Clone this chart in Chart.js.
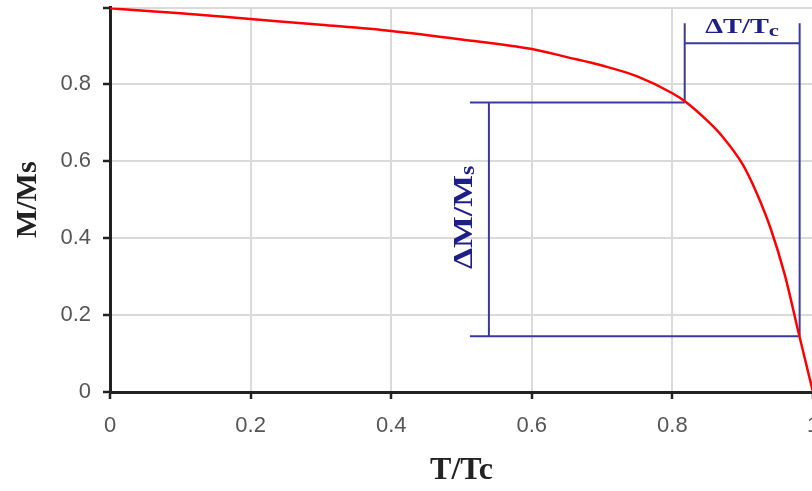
<!DOCTYPE html>
<html>
<head>
<meta charset="utf-8">
<script src="https://cdn.jsdelivr.net/npm/chart.js@4.4.1/dist/chart.umd.min.js"></script>
<style>
  html, body { margin: 0; padding: 0; background: #fff; overflow: hidden; }
  #wrap { position: relative; width: 833px; height: 491px; }
</style>
</head>
<body>
<div id="wrap"><canvas id="graphCanvas"></canvas></div>
<script>
// reduced temperature and reduced magnetization
const temperature = [0, 0.1, 0.2, 0.3, 0.4, 0.5, 0.6, 0.65, 0.7, 0.75, 0.8, 0.82, 0.85, 0.87, 0.9, 0.92, 0.94, 0.96, 0.98, 0.99, 1.0];
const magnetization = [0.998, 0.985, 0.970, 0.955, 0.939, 0.917, 0.892, 0.871, 0.849, 0.821, 0.777, 0.753, 0.705, 0.667, 0.592, 0.517, 0.424, 0.304, 0.150, 0.075, 0.0];

const axisTicks = [0, 0.2, 0.4, 0.6, 0.8, 1];

// intervals marked by the brackets
const deltaT = [0.8175, 0.981];
const deltaM = [0.145, 0.753];
const bracketLeft = 0.512;
const bracketTop = 0.959;
const deltaTBarY = 0.907;
const deltaMBarX = 0.539;

const BLUE = '#3a3a9e';
const NAVY = '#1e1e88';

function segment(x0, y0, x1, y1) {
    return {
        data: [{ x: x0, y: y0 }, { x: x1, y: y1 }],
        borderColor: BLUE,
        borderWidth: 2,
        pointRadius: 0,
        tension: 0,
    };
}

const bracketSegments = [
    segment(bracketLeft, deltaM[1], deltaT[0], deltaM[1]),
    segment(bracketLeft, deltaM[0], deltaT[1], deltaM[0]),
    segment(deltaMBarX, deltaM[0], deltaMBarX, deltaM[1]),
    segment(deltaT[0], deltaM[1], deltaT[0], bracketTop),
    segment(deltaT[1], deltaM[0], deltaT[1], bracketTop),
    segment(deltaT[0], deltaTBarY, deltaT[1], deltaTBarY),
];

// text with a smaller trailing subscript, stretched along its baseline
function drawLabel(ctx, parts, cx, baseline, sx) {
    ctx.save();
    ctx.translate(cx, baseline);
    ctx.scale(sx, 1);
    ctx.fillStyle = NAVY;
    ctx.textBaseline = 'alphabetic';
    let total = 0;
    parts.forEach(p => {
        ctx.font = 'bold ' + p.size + 'px "Liberation Serif", "Times New Roman", serif';
        p.w = ctx.measureText(p.text).width;
        total += p.w;
    });
    let x = -total / 2;
    parts.forEach(p => {
        ctx.font = 'bold ' + p.size + 'px "Liberation Serif", "Times New Roman", serif';
        ctx.fillText(p.text, x, p.dy);
        x += p.w;
    });
    ctx.restore();
}

const bracketLabels = {
    id: 'bracketLabels',
    afterDatasetsDraw(chart) {
        const { ctx, scales: { x, y } } = chart;
        const tx = (x.getPixelForValue(deltaT[0]) + x.getPixelForValue(deltaT[1])) / 2;
        const ty = y.getPixelForValue(deltaTBarY) - 10;
        drawLabel(ctx, [
            { text: 'ΔT/T', size: 21, dy: 0 },
            { text: 'c', size: 17, dy: 3 },
        ], tx, ty, 1.35);

        const mx = x.getPixelForValue(deltaMBarX) - 17;
        const my = (y.getPixelForValue(deltaM[0]) + y.getPixelForValue(deltaM[1])) / 2 - 2;
        ctx.save();
        ctx.translate(mx, my);
        ctx.rotate(-Math.PI / 2);
        drawLabel(ctx, [
            { text: 'ΔM/M', size: 28, dy: 0 },
            { text: 's', size: 20, dy: 2 },
        ], 0, 0, 1.2);
        ctx.restore();
    }
};

const tickFont = { family: '"Liberation Sans", Arial, sans-serif', size: 22 };
const titleFont = { family: '"Liberation Serif", "Times New Roman", serif', size: 32, weight: 'bold', lineHeight: 1 };

const context = document.getElementById('graphCanvas').getContext('2d');
const chart = new Chart(context, {
    type: 'line',
    data: {
        datasets: [
            {
                data: temperature.map((t, i) => ({ x: t, y: magnetization[i] })),
                borderColor: '#ff0000',
                borderWidth: 2.5,
                pointRadius: 0,
                cubicInterpolationMode: 'monotone',
            },
            ...bracketSegments,
        ]
    },
    options: {
        responsive: true,
        maintainAspectRatio: false,
        animation: false,
        layout: { padding: { top: 7.5, right: 20, bottom: 0, left: 0 } },
        plugins: {
            legend: { display: false },
            tooltip: { enabled: false },
        },
        scales: {
            x: {
                type: 'linear',
                min: 0,
                max: 1,
                afterBuildTicks: scale => { scale.ticks = axisTicks.map(v => ({ value: v })); },
                afterFit: scale => { scale.height = 99; scale.paddingLeft = 0; scale.paddingRight = 0; },
                ticks: {
                    font: tickFont,
                    color: '#555',
                    padding: 14,
                    maxRotation: 0,
                    callback: v => String(v),
                },
                grid: { color: '#dadada', lineWidth: 2, tickColor: '#222', tickLength: 7, tickWidth: 2.5 },
                border: { color: '#222', width: 3 },
                title: { display: true, text: 'T/Tc', font: titleFont, color: '#222', padding: { top: 0, bottom: 4 } },
            },
            y: {
                type: 'linear',
                min: 0,
                max: 1,
                afterBuildTicks: scale => { scale.ticks = axisTicks.map(v => ({ value: v })); },
                afterFit: scale => { scale.width = 110; scale.paddingTop = 0; scale.paddingBottom = 0; },
                ticks: {
                    font: tickFont,
                    color: '#555',
                    padding: 12,
                    callback: v => (v === 1 ? '' : String(v)),
                },
                grid: { color: '#dadada', lineWidth: 2, tickColor: '#222', tickLength: 7, tickWidth: 2.5 },
                border: { color: '#222', width: 3 },
                title: { display: true, text: 'M/Ms', font: { ...titleFont, size: 30 }, color: '#222', padding: { top: 13, bottom: 0 } },
            },
        },
    },
    plugins: [bracketLabels],
});
</script>
</body>
</html>
